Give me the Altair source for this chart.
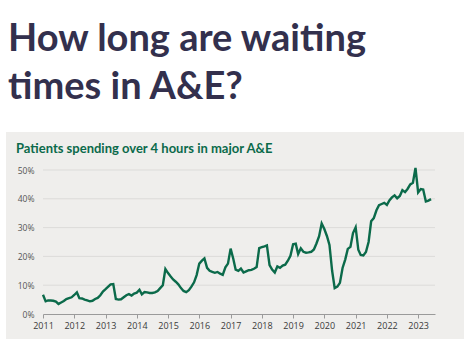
import altair as alt
import pandas as pd

# Monthly % of patients spending over 4 hours in major A&E
y2011 = [6.7, 4.4, 4.7, 4.7, 4.6, 4.3, 3.5, 4.0, 4.5, 5.2, 5.5, 5.8]
y2012 = [6.6, 7.5, 5.5, 5.4, 5.0, 4.7, 4.4, 4.6, 5.2, 5.6, 6.5, 7.8]
y2013 = [8.6, 9.5, 10.3, 10.4, 5.2, 5.0, 5.1, 5.8, 6.5, 6.9, 6.4, 7.1]
y2014 = [7.4, 8.4, 6.8, 7.6, 7.5, 7.3, 7.3, 7.5, 8.0, 9.0, 10.0, 15.6]
y2015 = [14.2, 13.0, 12.0, 11.2, 10.3, 9.0, 8.0, 7.6, 8.3, 9.5, 11.0, 13.5]
y2016 = [17.5, 18.5, 19.3, 16.0, 15.0, 14.6, 14.3, 14.6, 14.0, 13.6, 16.2, 17.5]
y2017 = [22.7, 19.2, 15.4, 15.0, 15.8, 14.4, 14.8, 15.2, 15.3, 15.7, 16.3, 22.9]
y2018 = [23.2, 23.5, 23.8, 17.0, 15.4, 14.4, 16.5, 16.0, 16.8, 17.1, 18.5, 20.2]
y2019 = [24.2, 24.4, 20.8, 22.8, 21.6, 21.3, 21.4, 21.6, 22.4, 24.5, 27.0, 31.4]
y2020 = [29.5, 27.0, 24.0, 15.0, 9.0, 9.5, 10.8, 16.0, 18.9, 22.6, 23.3, 28.1]
y2021 = [30.1, 22.3, 20.5, 20.3, 21.5, 25.0, 32.2, 33.3, 36.0, 37.8, 38.2, 38.6]
y2022 = [37.9, 39.5, 40.5, 41.2, 40.2, 41.0, 43.0, 42.3, 43.5, 45.0, 45.6, 50.7]
y2023 = [42.2, 43.4, 43.2, 39.1, 39.4, 39.9]

values = y2011 + y2012 + y2013 + y2014 + y2015 + y2016 + y2017 + y2018 + y2019 + y2020 + y2021 + y2022 + y2023
months = pd.date_range("2011-01-01", periods=len(values), freq="MS")

grid_values = [10, 20, 30, 40, 50]
tick_values = [0, 10, 20, 30, 40, 50]

title_lines = ["How long are waiting", "times in A&E?"]
subtitle_text = "Patients spending over 4 hours in major A&E"

df = pd.DataFrame({"month": months, "pct": values})
grid_df = pd.DataFrame({"g": grid_values, "label": [subtitle_text] * len(grid_values)})

PANEL = "#efeeec"
GREEN = "#0b6a4a"

x_scale = alt.Scale(domain=[pd.Timestamp("2011-01-01").isoformat(), pd.Timestamp("2023-07-17").isoformat()], nice=False)
y_scale = alt.Scale(domain=[0, 50], nice=False)

y_axis = alt.Axis(title=None, values=tick_values, labelExpr="datum.value + '%'",
                  grid=False, domain=False, ticks=False,
                  labelColor="#555555", labelFont="Open Sans", labelFontSize=8.5,
                  labelPadding=9, labelOverlap=False, labelFlush=False, zindex=1)

one_row = alt.Chart(grid_df).transform_filter("datum.g == 50")

panel = one_row.mark_rect(color=PANEL).encode(
    x=alt.value(-37), x2=alt.value(421), y=alt.value(-38), y2=alt.value(169)
)

subtitle = one_row.mark_text(
    align="left", baseline="alphabetic", font="Lato", fontSize=13, fontWeight="bold", color=GREEN
).encode(x=alt.value(-27), y=alt.value(-17), text="label:N")

grid = alt.Chart(grid_df).mark_rule(color="#dcdbd9", strokeWidth=1).encode(
    y=alt.Y("g:Q", scale=y_scale, axis=y_axis),
    x=alt.value(0), x2=alt.value(392)
)

line = alt.Chart(df).mark_line(color=GREEN, strokeWidth=2.4, clip=False).encode(
    x=alt.X("month:T", scale=x_scale,
            axis=alt.Axis(title=None, format="%Y", tickCount={"interval": "year", "step": 1},
                          grid=False, domainColor="#9a9a9a", tickColor="#9a9a9a", tickSize=4,
                          labelColor="#3a3a3a", labelFont="Open Sans", labelFontSize=9,
                          labelPadding=3, labelFlush=False, labelOverlap=False, zindex=1)),
    y=alt.Y("pct:Q", scale=y_scale, axis=y_axis)
)

chart = alt.layer(panel, subtitle, grid, line).properties(
    width=392, height=144,
    autosize=alt.AutoSizeParams(type="none"),
    padding={"left": 43, "top": 170, "right": 38, "bottom": 34},
    background="white",
    title=alt.TitleParams(
        text=title_lines,
        anchor="start", frame="group", dx=-35, dy=-13,
        font="Lato", fontSize=38, fontWeight="bold", color="#33304d", lineHeight=48,
        offset=12
    )
).configure_view(stroke=None)

chart.save("out.html", embed_options={"renderer": "svg", "actions": False})
